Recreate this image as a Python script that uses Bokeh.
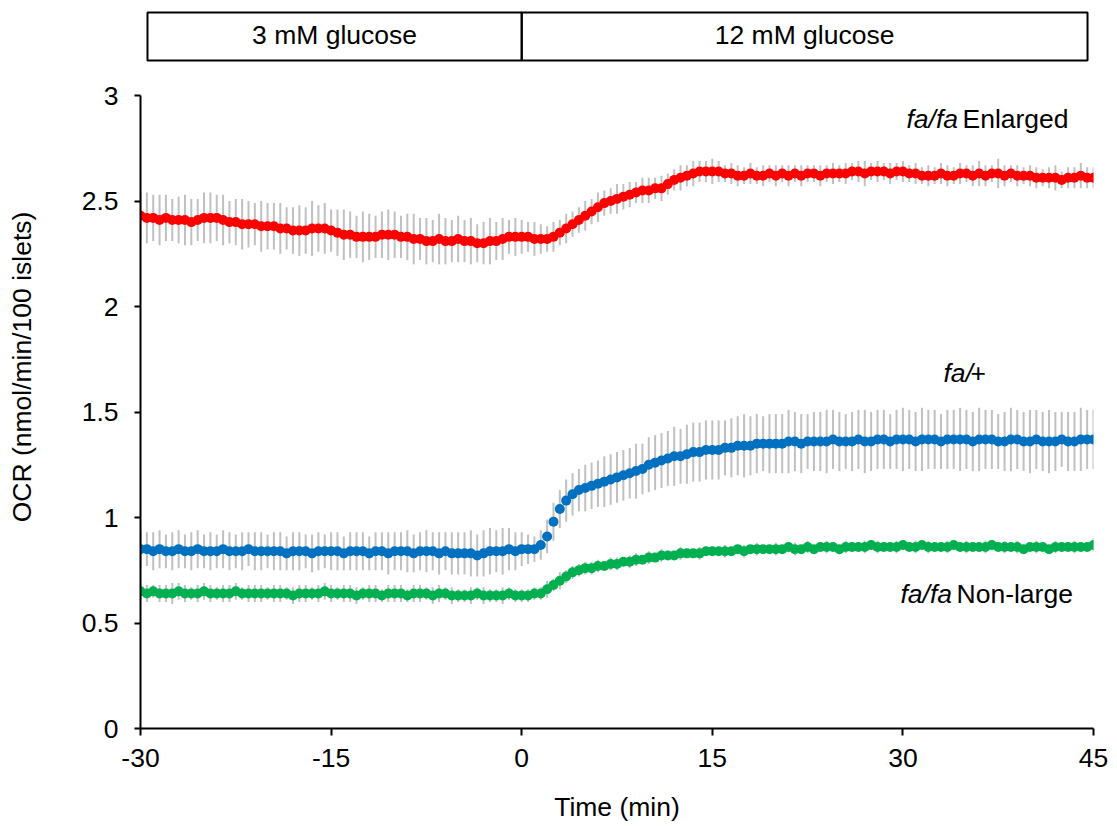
from bokeh.plotting import figure
from bokeh.models import Range1d, FixedTicker, Label
from bokeh.embed import file_html
from bokeh.resources import INLINE

# ---------------- data (time in min, OCR in nmol/min/100 islets) ----------------
time_min = [-30 + 0.5 * i for i in range(151)]

enlarged_mean = [
    2.43, 2.42, 2.42, 2.41, 2.42, 2.41, 2.41, 2.41, 2.40, 2.41, 2.42,
    2.42, 2.42, 2.41, 2.40, 2.40, 2.39, 2.39, 2.39, 2.38, 2.38,
    2.38, 2.37, 2.37, 2.36, 2.36, 2.36, 2.37, 2.37, 2.37, 2.36,
    2.35, 2.34, 2.34, 2.33, 2.33, 2.33, 2.33, 2.34, 2.34, 2.34,
    2.33, 2.33, 2.32, 2.32, 2.31, 2.31, 2.32, 2.31, 2.31, 2.32,
    2.31, 2.31, 2.30, 2.30, 2.31, 2.31, 2.32, 2.33, 2.33, 2.33,
    2.33, 2.32, 2.32, 2.32, 2.33, 2.35, 2.37, 2.39, 2.41, 2.43,
    2.45, 2.47, 2.49, 2.50, 2.51, 2.52, 2.53, 2.54, 2.55, 2.55,
    2.56, 2.56, 2.58, 2.60, 2.61, 2.62, 2.63, 2.64, 2.64, 2.64,
    2.64, 2.63, 2.63, 2.62, 2.62, 2.63, 2.62, 2.62, 2.63, 2.62,
    2.63, 2.62, 2.63, 2.62, 2.63, 2.63, 2.62, 2.63, 2.63, 2.63,
    2.63, 2.64, 2.64, 2.63, 2.64, 2.64, 2.64, 2.63, 2.64, 2.64,
    2.63, 2.63, 2.62, 2.62, 2.62, 2.63, 2.62, 2.62, 2.63, 2.63,
    2.62, 2.63, 2.62, 2.63, 2.63, 2.62, 2.63, 2.62, 2.62, 2.62,
    2.61, 2.61, 2.61, 2.61, 2.60, 2.61, 2.61, 2.62, 2.61, 2.61,
]
enlarged_err = [
    0.11, 0.12, 0.11, 0.12, 0.11, 0.10, 0.11, 0.12, 0.11, 0.10, 0.12,
    0.12, 0.11, 0.12, 0.10, 0.11, 0.12, 0.11, 0.10, 0.12, 0.11,
    0.11, 0.12, 0.10, 0.11, 0.12, 0.11, 0.13, 0.11, 0.12, 0.10,
    0.11, 0.12, 0.11, 0.10, 0.12, 0.11, 0.10, 0.11, 0.12, 0.11,
    0.10, 0.11, 0.12, 0.10, 0.11, 0.10, 0.12, 0.11, 0.10, 0.11,
    0.10, 0.11, 0.09, 0.10, 0.11, 0.09, 0.10, 0.08, 0.09, 0.08,
    0.07, 0.08, 0.07, 0.06, 0.07, 0.06, 0.07, 0.06, 0.06, 0.07,
    0.06, 0.07, 0.06, 0.06, 0.07, 0.06, 0.06, 0.05, 0.06, 0.06,
    0.05, 0.06, 0.05, 0.05, 0.06, 0.05, 0.06, 0.05, 0.05, 0.06,
    0.05, 0.04, 0.05, 0.05, 0.04, 0.05, 0.04, 0.05, 0.04, 0.05,
    0.04, 0.05, 0.04, 0.05, 0.04, 0.04, 0.05, 0.04, 0.05, 0.04,
    0.05, 0.04, 0.05, 0.06, 0.04, 0.05, 0.04, 0.05, 0.04, 0.05,
    0.04, 0.05, 0.04, 0.05, 0.04, 0.05, 0.05, 0.04, 0.05, 0.04,
    0.05, 0.06, 0.05, 0.04, 0.07, 0.05, 0.04, 0.05, 0.04, 0.05,
    0.05, 0.04, 0.05, 0.06, 0.04, 0.05, 0.05, 0.06, 0.05, 0.05,
]

het_mean = [
    0.85, 0.85, 0.84, 0.85, 0.84, 0.84, 0.85, 0.84, 0.84, 0.85, 0.84,
    0.84, 0.84, 0.85, 0.84, 0.84, 0.84, 0.85, 0.84, 0.84, 0.84,
    0.84, 0.84, 0.83, 0.84, 0.84, 0.84, 0.83, 0.84, 0.84, 0.84,
    0.84, 0.83, 0.84, 0.84, 0.84, 0.83, 0.84, 0.84, 0.83, 0.84,
    0.84, 0.84, 0.83, 0.84, 0.84, 0.84, 0.83, 0.84, 0.83, 0.83,
    0.83, 0.83, 0.82, 0.83, 0.84, 0.84, 0.84, 0.85, 0.84, 0.85,
    0.85, 0.85, 0.87, 0.91, 0.98, 1.04, 1.08, 1.11, 1.13, 1.14,
    1.15, 1.16, 1.17, 1.18, 1.19, 1.20, 1.21, 1.22, 1.23, 1.25,
    1.26, 1.27, 1.28, 1.29, 1.29, 1.30, 1.31, 1.31, 1.32, 1.32,
    1.32, 1.33, 1.33, 1.34, 1.34, 1.34, 1.35, 1.35, 1.35, 1.35,
    1.35, 1.36, 1.36, 1.35, 1.36, 1.36, 1.36, 1.36, 1.37, 1.36,
    1.36, 1.36, 1.37, 1.36, 1.36, 1.37, 1.37, 1.36, 1.37, 1.37,
    1.37, 1.36, 1.37, 1.37, 1.37, 1.36, 1.37, 1.37, 1.37, 1.37,
    1.36, 1.37, 1.37, 1.37, 1.36, 1.36, 1.37, 1.37, 1.36, 1.36,
    1.37, 1.36, 1.36, 1.36, 1.37, 1.36, 1.36, 1.37, 1.37, 1.37,
]
het_err = [
    0.09, 0.08, 0.09, 0.09, 0.08, 0.09, 0.09, 0.08, 0.09, 0.09, 0.08,
    0.09, 0.08, 0.09, 0.09, 0.08, 0.09, 0.08, 0.09, 0.09, 0.08,
    0.09, 0.09, 0.08, 0.09, 0.09, 0.08, 0.09, 0.09, 0.08, 0.09,
    0.09, 0.08, 0.09, 0.09, 0.09, 0.08, 0.09, 0.09, 0.10, 0.09,
    0.09, 0.10, 0.09, 0.09, 0.10, 0.09, 0.10, 0.09, 0.10, 0.10,
    0.10, 0.11, 0.10, 0.11, 0.11, 0.10, 0.11, 0.10, 0.09, 0.08,
    0.07, 0.06, 0.07, 0.08, 0.09, 0.09, 0.10, 0.10, 0.10, 0.11,
    0.11, 0.11, 0.12, 0.12, 0.12, 0.12, 0.12, 0.13, 0.12, 0.13,
    0.13, 0.13, 0.13, 0.14, 0.13, 0.14, 0.14, 0.14, 0.14, 0.14,
    0.14, 0.13, 0.14, 0.14, 0.15, 0.14, 0.14, 0.13, 0.14, 0.14,
    0.14, 0.15, 0.14, 0.14, 0.13, 0.14, 0.14, 0.15, 0.14, 0.14,
    0.13, 0.14, 0.14, 0.15, 0.14, 0.14, 0.14, 0.13, 0.14, 0.15,
    0.14, 0.14, 0.15, 0.14, 0.14, 0.13, 0.14, 0.14, 0.15, 0.14,
    0.14, 0.15, 0.14, 0.14, 0.13, 0.14, 0.15, 0.14, 0.14, 0.15,
    0.14, 0.14, 0.15, 0.14, 0.13, 0.14, 0.14, 0.15, 0.14, 0.14,
]

nonlarge_mean = [
    0.65, 0.64, 0.65, 0.64, 0.64, 0.64, 0.65, 0.64, 0.64, 0.64, 0.65,
    0.64, 0.64, 0.64, 0.64, 0.65, 0.64, 0.64, 0.64, 0.64, 0.64,
    0.64, 0.64, 0.64, 0.63, 0.64, 0.64, 0.64, 0.64, 0.65, 0.64,
    0.64, 0.64, 0.64, 0.63, 0.64, 0.64, 0.64, 0.63, 0.64, 0.64,
    0.64, 0.63, 0.64, 0.64, 0.64, 0.63, 0.64, 0.64, 0.63, 0.63,
    0.63, 0.63, 0.64, 0.63, 0.63, 0.63, 0.63, 0.64, 0.63, 0.63,
    0.63, 0.64, 0.64, 0.66, 0.68, 0.70, 0.72, 0.74, 0.75, 0.76,
    0.76, 0.77, 0.77, 0.78, 0.78, 0.79, 0.79, 0.80, 0.80, 0.81,
    0.81, 0.82, 0.82, 0.82, 0.83, 0.83, 0.83, 0.83, 0.84, 0.84,
    0.84, 0.84, 0.84, 0.85, 0.84, 0.85, 0.85, 0.85, 0.85, 0.85,
    0.85, 0.86, 0.85, 0.85, 0.86, 0.85, 0.86, 0.86, 0.86, 0.85,
    0.86, 0.86, 0.86, 0.86, 0.87, 0.86, 0.86, 0.86, 0.86, 0.87,
    0.86, 0.86, 0.87, 0.86, 0.86, 0.86, 0.86, 0.87, 0.86, 0.86,
    0.86, 0.86, 0.86, 0.87, 0.86, 0.86, 0.86, 0.86, 0.85, 0.86,
    0.86, 0.86, 0.85, 0.86, 0.86, 0.86, 0.86, 0.86, 0.86, 0.87,
]
nonlarge_err = [
    0.04, 0.04, 0.03, 0.04, 0.04, 0.05, 0.04, 0.04, 0.03, 0.04, 0.04,
    0.04, 0.03, 0.04, 0.04, 0.04, 0.03, 0.04, 0.04, 0.04, 0.03,
    0.04, 0.04, 0.03, 0.04, 0.04, 0.04, 0.03, 0.04, 0.04, 0.04,
    0.03, 0.04, 0.04, 0.04, 0.03, 0.04, 0.04, 0.03, 0.04, 0.04,
    0.04, 0.03, 0.04, 0.04, 0.03, 0.04, 0.04, 0.03, 0.04, 0.03,
    0.03, 0.04, 0.03, 0.04, 0.03, 0.03, 0.04, 0.03, 0.03, 0.03,
    0.03, 0.03, 0.03, 0.04, 0.03, 0.04, 0.03, 0.03, 0.03, 0.03,
    0.03, 0.03, 0.02, 0.03, 0.03, 0.02, 0.03, 0.03, 0.02, 0.03,
    0.02, 0.03, 0.02, 0.02, 0.03, 0.02, 0.02, 0.03, 0.02, 0.02,
    0.02, 0.03, 0.02, 0.02, 0.03, 0.02, 0.03, 0.02, 0.02, 0.03,
    0.02, 0.02, 0.03, 0.02, 0.03, 0.02, 0.02, 0.03, 0.02, 0.02,
    0.03, 0.02, 0.02, 0.03, 0.02, 0.03, 0.02, 0.02, 0.03, 0.02,
    0.02, 0.03, 0.02, 0.03, 0.02, 0.02, 0.03, 0.02, 0.02, 0.03,
    0.02, 0.02, 0.03, 0.02, 0.02, 0.03, 0.02, 0.03, 0.02, 0.02,
    0.03, 0.02, 0.02, 0.03, 0.02, 0.02, 0.03, 0.02, 0.02, 0.03,
]

x_ticks = [-30, -15, 0, 15, 30, 45]
x_tick_labels = ["-30", "-15", "0", "15", "30", "45"]
y_ticks = [0, 0.5, 1, 1.5, 2, 2.5, 3]
phase_labels = ["3 mM glucose", "12 mM glucose"]

# ---------------- figure ----------------
FONT = "Liberation Sans"
FS = "26.5px"
PX_PER_UNIT = 211.0

p = figure(width=1117, height=826, output_backend="svg", toolbar_location=None,
           x_range=Range1d(-30, 45), y_range=Range1d(0, 723 / PX_PER_UNIT),
           min_border_left=140, min_border_right=24, min_border_top=5,
           min_border_bottom=98)
p.outline_line_color = None
p.grid.visible = False
p.background_fill_color = "white"
p.border_fill_color = "white"

for ax in (p.xaxis[0], p.yaxis[0]):
    ax.axis_line_width = 2
    ax.axis_line_color = "black"
    ax.major_tick_line_width = 2
    ax.major_tick_line_color = "black"
    ax.minor_tick_line_color = None
    ax.major_tick_in = 0
    ax.major_label_text_font = FONT
    ax.major_label_text_font_size = FS
    ax.major_label_text_color = "black"
    ax.axis_label_text_font = FONT
    ax.axis_label_text_font_size = FS
    ax.axis_label_text_font_style = "normal"
    ax.axis_label_text_color = "black"

p.xaxis.ticker = FixedTicker(ticks=x_ticks)
p.xaxis.major_label_overrides = {t: s for t, s in zip(x_ticks, x_tick_labels)}
p.xaxis.major_tick_out = 7
p.xaxis.major_label_standoff = 13
p.xaxis.axis_label = "Time (min)"
p.xaxis.axis_label_standoff = 22

p.yaxis.ticker = FixedTicker(ticks=y_ticks)
p.yaxis.bounds = (0, 3)
p.yaxis.major_tick_out = 6
p.yaxis.major_label_standoff = 16
p.yaxis.axis_label = "OCR (nmol/min/100 islets)"
p.yaxis.axis_label_standoff = 42

# error bars
for mean, err in ((enlarged_mean, enlarged_err), (het_mean, het_err),
                  (nonlarge_mean, nonlarge_err)):
    lo = [m - e for m, e in zip(mean, err)]
    hi = [m + e for m, e in zip(mean, err)]
    p.segment(x0=time_min, y0=lo, x1=time_min, y1=hi,
              line_color="#C0C0C0", line_width=2)

# series
for mean, color in ((nonlarge_mean, "#00B050"), (het_mean, "#0070C0"),
                    (enlarged_mean, "#FF0000")):
    p.scatter(time_min, mean, size=10, marker="circle",
              fill_color=color, line_color=color, line_width=0)

# glucose phase boxes above plot
box_bottom, box_top = 3.166, 3.393
edges = [-29.45, 0, 44.53]
p.quad(left=edges[:-1], right=edges[1:], bottom=box_bottom, top=box_top,
       fill_color=None, line_color="black", line_width=2)
for i, lab in enumerate(phase_labels):
    p.add_layout(Label(x=(edges[i] + edges[i + 1]) / 2, y=(box_bottom + box_top) / 2 + 0.005,
                       text=lab, text_align="center", text_baseline="middle",
                       text_font=FONT, text_font_size=FS, text_color="black"))

# series labels (italic genotype + regular text)
def add_label(x, y, text, italic):
    p.add_layout(Label(x=x, y=y, text=text, text_align="left",
                       text_baseline="alphabetic", text_font=FONT,
                       text_font_size=FS, text_color="black",
                       text_font_style="italic" if italic else "normal"))

add_label(30.28, 2.890, "fa/fa", True)
add_label(34.69, 2.890, "Enlarged", False)
add_label(33.19, 1.684, "fa/", True)
add_label(35.32, 1.684, "+", False)
add_label(29.81, 0.638, "fa/fa", True)
add_label(34.22, 0.638, "Non-large", False)

open("out.html", "w").write(file_html(p, INLINE))
